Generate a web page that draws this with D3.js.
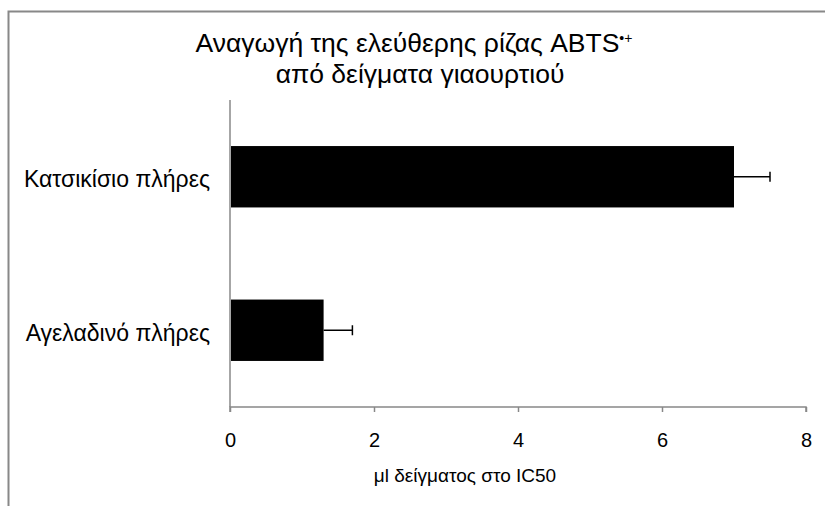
<!DOCTYPE html>
<html lang="el">
<head>
	<meta charset="utf-8">
	<title>ABTS</title>
	<script src="https://d3js.org/d3.v7.min.js"></script>
	<style type="text/css">
		body { margin: 0; background: #fff; }
		text { font-family: "Liberation Sans", Arial, sans-serif; fill: #000; }
	</style>
</head>
<body>
	<script type="text/javascript">

	// data
	var categories = ["Κατσικίσιο πλήρες", "Αγελαδινό πλήρες"];
	var values = [7.0, 1.3];
	var errors = [0.5, 0.4];
	var xTicks = [0, 2, 4, 6, 8];

	var w = 825, h = 506;
	var mLeft = 230, mRight = 806, mTop = 100, mBottom = 407;

	var svg = d3.select("body").append("svg")
		.attr("width", w)
		.attr("height", h);

	// outer frame (only left and top edges visible)
	svg.append("rect")
		.attr("x", 8.5).attr("y", 11.5)
		.attr("width", 840).attr("height", 520)
		.attr("fill", "none")
		.attr("stroke", "#888")
		.attr("stroke-width", 2);

	var xScale = d3.scaleLinear().domain([0, 8]).range([mLeft, mRight]);
	var yScale = d3.scaleBand().domain(categories).range([mTop, mBottom])
		.paddingInner(0.6).paddingOuter(0.3);

	// title
	var title = svg.append("text")
		.attr("x", 414).attr("y", 52)
		.attr("text-anchor", "middle")
		.style("font-size", "26.5px");
	title.append("tspan").text("Αναγωγή της ελεύθερης ρίζας ABTS");
	title.append("tspan").attr("dy", -9).style("font-size", "14px").text("•+");
	svg.append("text")
		.attr("x", 420).attr("y", 83)
		.attr("text-anchor", "middle")
		.style("font-size", "26.5px")
		.text("από δείγματα γιαουρτιού");

	// x axis
	var xAxis = d3.axisBottom(xScale).tickValues(xTicks).tickSize(5).tickPadding(21);
	var gx = svg.append("g")
		.attr("transform", "translate(0," + mBottom + ")")
		.call(xAxis);
	gx.select(".domain").attr("stroke", "#888").attr("stroke-width", 1.5)
		.attr("d", "M" + mLeft + ",5V0H" + mRight + "V5");
	gx.selectAll(".tick line").attr("stroke", "#888").attr("stroke-width", 1.5);
	gx.selectAll(".tick text").style("font-size", "20px").attr("font-family", null);

	// y axis
	var yAxis = d3.axisLeft(yScale).tickSize(0).tickPadding(20);
	var gy = svg.append("g")
		.attr("transform", "translate(" + mLeft + ",0)")
		.call(yAxis);
	gy.select(".domain").attr("stroke", "#888").attr("stroke-width", 1.5)
		.attr("d", "M0," + mTop + "V" + mBottom);
	gy.selectAll(".tick text").style("font-size", "23px").attr("font-family", null)
		.attr("dy", "0.45em");

	// axis title
	svg.append("text")
		.attr("x", 465).attr("y", 482)
		.attr("text-anchor", "middle")
		.style("font-size", "19px")
		.text("μl δείγματος στο IC50");

	// bars
	svg.append("g").selectAll("rect")
		.data(categories)
		.enter().append("rect")
		.attr("x", xScale(0) + 1)
		.attr("y", d => yScale(d))
		.attr("width", (d, i) => xScale(values[i]) - xScale(0) - 1)
		.attr("height", yScale.bandwidth())
		.attr("fill", "#000");

	// error bars
	var eb = svg.append("g").selectAll("g")
		.data(categories)
		.enter().append("g");
	eb.append("line")
		.attr("x1", (d, i) => xScale(values[i]))
		.attr("x2", (d, i) => xScale(values[i] + errors[i]))
		.attr("y1", d => yScale(d) + yScale.bandwidth() / 2)
		.attr("y2", d => yScale(d) + yScale.bandwidth() / 2)
		.attr("stroke", "#000").attr("stroke-width", 1.5);
	eb.append("line")
		.attr("x1", (d, i) => xScale(values[i] + errors[i]))
		.attr("x2", (d, i) => xScale(values[i] + errors[i]))
		.attr("y1", d => yScale(d) + yScale.bandwidth() / 2 - 5)
		.attr("y2", d => yScale(d) + yScale.bandwidth() / 2 + 5)
		.attr("stroke", "#000").attr("stroke-width", 1.5);

	</script>
</body>
</html>
